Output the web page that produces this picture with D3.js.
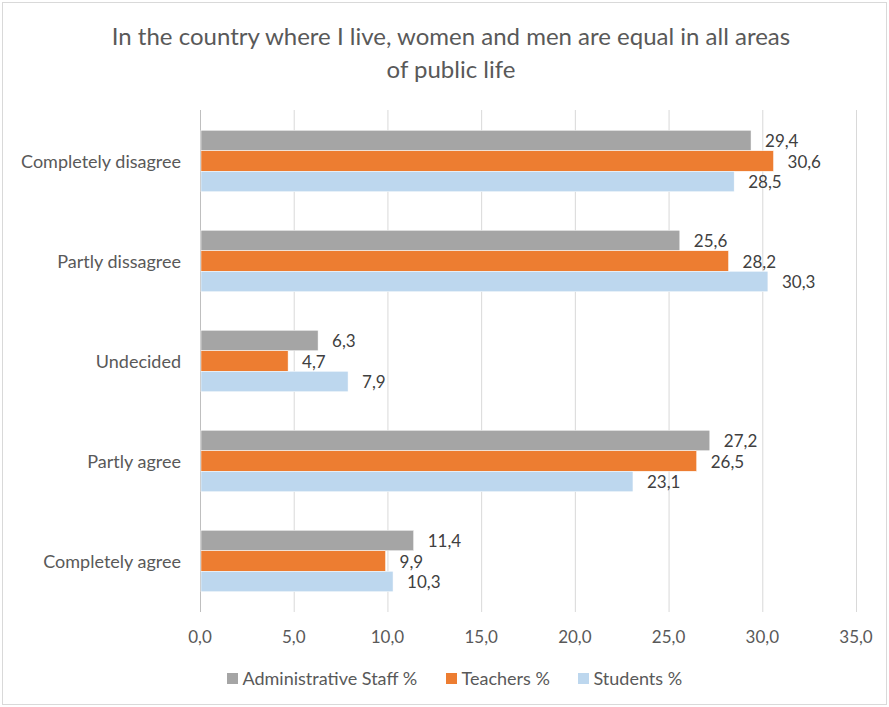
<!DOCTYPE html>
<html>
<head>
<meta charset="utf-8">
<script src="https://cdn.jsdelivr.net/npm/d3@7"></script>
<style>
  html, body { margin: 0; padding: 0; background: #fff; }
  svg { display: block; font-family: Lato, "Open Sans", sans-serif; }
</style>
</head>
<body>
<svg id="chart" width="889" height="707"></svg>
<script>
// Survey answers, top to bottom
const categories = ["Completely disagree", "Partly dissagree", "Undecided", "Partly agree", "Completely agree"];
const seriesNames = ["Administrative Staff %", "Teachers %", "Students %"];
const adminStaff = [29.4, 25.6, 6.3, 27.2, 11.4];
const teachers = [30.6, 28.2, 4.7, 26.5, 9.9];
const students = [28.5, 30.3, 7.9, 23.1, 10.3];
const xTicks = [0, 5, 10, 15, 20, 25, 30, 35];
const colors = ["#A5A5A5", "#ED7D31", "#BDD7EE"];
const titleLines = ["In the country where I live, women and men are equal in all areas", "of public life"];

const seriesValues = [adminStaff, teachers, students];
const fmt = v => v.toFixed(1).replace(".", ",");

const svg = d3.select("#chart");
const W = 889, H = 707;

// chart frame
svg.append("rect")
  .attr("x", 2.5).attr("y", 2.5).attr("width", W - 5).attr("height", H - 5)
  .attr("fill", "#fff").attr("stroke", "#D9D9D9").attr("stroke-width", 1);

// title
svg.append("text")
  .attr("text-anchor", "middle")
  .attr("fill", "#595959")
  .attr("font-size", 24)
  .selectAll("tspan").data(titleLines).join("tspan")
  .attr("x", 451).attr("y", (d, i) => 45 + i * 33)
  .text(d => d);

const plot = { left: 200, right: 856, top: 111, bottom: 611 };

const x = d3.scaleLinear().domain([0, 35]).range([plot.left, plot.right]);
const y = d3.scaleBand().domain(categories).range([plot.top, plot.bottom]).paddingInner(0.385).paddingOuter(0.1925);
const ySub = d3.scaleBand().domain(seriesNames).range([0, y.bandwidth()]);

// vertical gridlines
svg.append("g").selectAll("line").data(xTicks).join("line")
  .attr("x1", d => x(d) + 0.5).attr("x2", d => x(d) + 0.5)
  .attr("y1", plot.top - 1).attr("y2", plot.bottom + 1)
  .attr("stroke", d => d === 0 ? "#BFBFBF" : "#D9D9D9")
  .attr("stroke-width", 1);

// x tick labels
svg.append("g").selectAll("text").data(xTicks).join("text")
  .attr("x", d => x(d)).attr("y", 643)
  .attr("text-anchor", "middle")
  .attr("fill", "#595959")
  .attr("font-size", 17)
  .text(d => fmt(d));

// category labels
svg.append("g").selectAll("text").data(categories).join("text")
  .attr("x", 181).attr("y", d => y(d) + y.bandwidth() / 2 + 6.5)
  .attr("text-anchor", "end")
  .attr("fill", "#595959")
  .attr("font-size", 18)
  .text(d => d);

// bars
const groups = svg.append("g").selectAll("g").data(categories).join("g")
  .attr("transform", d => `translate(0,${y(d)})`);

groups.selectAll("rect")
  .data((c, ci) => seriesNames.map((s, si) => ({ s, si, v: seriesValues[si][ci] })))
  .join("rect")
  .attr("x", x(0) + 1)
  .attr("y", d => ySub(d.s))
  .attr("width", d => x(d.v) - x(0) - 1)
  .attr("height", ySub.bandwidth())
  .attr("fill", d => colors[d.si])
  .attr("stroke", "#fff").attr("stroke-width", 0.5);

// value labels
groups.selectAll("text")
  .data((c, ci) => seriesNames.map((s, si) => ({ s, si, v: seriesValues[si][ci] })))
  .join("text")
  .attr("x", d => x(d.v) + 14)
  .attr("y", d => ySub(d.s) + ySub.bandwidth() / 2 + 6.5)
  .attr("fill", "#404040")
  .attr("font-size", 17)
  .text(d => fmt(d.v));

// legend
const legendX = [227, 446, 578];
const legend = svg.append("g").selectAll("g").data(seriesNames).join("g")
  .attr("transform", (d, i) => `translate(${legendX[i]},673)`);
legend.append("rect")
  .attr("x", 0).attr("y", 0).attr("width", 11).attr("height", 11)
  .attr("fill", (d, i) => colors[i]);
legend.append("text")
  .attr("x", 15.5).attr("y", 12)
  .attr("fill", "#595959")
  .attr("font-size", 18)
  .text(d => d);
</script>
</body>
</html>
